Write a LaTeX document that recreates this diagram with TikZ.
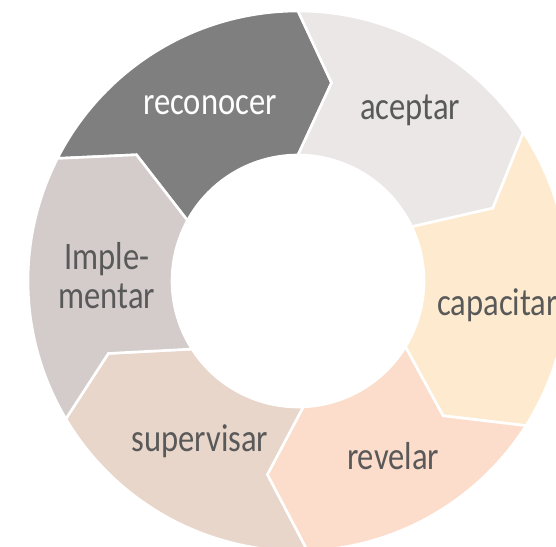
\documentclass[tikz,border=0pt]{standalone}
\usepackage{fontspec}
\setmainfont{Carlito}[FakeStretch=0.835]
\definecolor{cReco}{HTML}{7F7F7F}
\definecolor{cAcep}{HTML}{ECE7E7}
\definecolor{cCapa}{HTML}{FEEBCF}
\definecolor{cReve}{HTML}{FCDCCA}
\definecolor{cSupe}{HTML}{E8D6CA}
\definecolor{cImpl}{HTML}{D3CCCA}
\definecolor{cText}{HTML}{595959}
\tikzset{
  segm/.style={draw=white, line width=2.6pt, line join=miter},
  lbl/.style={text=cText, font=\fontsize{39}{42}\selectfont, inner sep=0pt, anchor=base},
}
\begin{document}
\begin{tikzpicture}
\fill[white] (-298pt,-265pt) rectangle (258pt,281pt);
\useasboundingbox (-298pt,-265pt) rectangle (258pt,281pt);
% reconocer
\path[segm, fill=cReco] (153:270pt) arc[start angle=153, end angle=90, radius=270pt]
  -- (80.4:201pt) -- (90:126pt) arc[start angle=90, end angle=151.3, radius=126pt]
  -- (142:205pt) -- cycle;
% aceptar
\path[segm, fill=cAcep] (90:270pt) arc[start angle=90, end angle=33.4, radius=270pt]
  -- (20.5:208pt) -- (25.5:126pt) arc[start angle=25.5, end angle=90, radius=126pt]
  -- (80.4:201pt) -- cycle;
% capacitar
\path[segm, fill=cCapa] (33.4:270pt) arc[start angle=33.4, end angle=-32.4, radius=270pt]
  -- (-42.9:198pt) -- (-31.5:126pt) arc[start angle=-31.5, end angle=25.5, radius=126pt]
  -- (20.5:208pt) -- cycle;
% revelar
\path[segm, fill=cReve] (-32.4:270pt) arc[start angle=-32.4, end angle=-88, radius=270pt]
  -- (-99:196pt) -- (-87.6:126pt) arc[start angle=-87.6, end angle=-31.5, radius=126pt]
  -- (-42.9:198pt) -- cycle;
% supervisar
\path[segm, fill=cSupe] (-88:270pt) arc[start angle=-88, end angle=-149.3, radius=270pt]
  -- (-159.1:203pt) -- (-147.3:126pt) arc[start angle=-147.3, end angle=-87.6, radius=126pt]
  -- (-99:196pt) -- cycle;
% Implementar
\path[segm, fill=cImpl] (210.7:270pt) arc[start angle=210.7, end angle=153, radius=270pt]
  -- (142:205pt) -- (151.3:126pt) arc[start angle=151.3, end angle=212.7, radius=126pt]
  -- (200.9:203pt) -- cycle;
% labels
\node[lbl, text=white] (reco) at (-88pt,166pt) {reconocer};
\node[lbl] (acep) at (112pt,161pt) {aceptar};
\node[lbl, anchor=base west] (capa) at (139pt,-34pt) {capacitar};
\node[lbl] (reve) at (95pt,-188pt) {revelar};
\node[lbl] (supe) at (-98pt,-170pt) {supervisar};
\node[lbl] (impla) at (-191pt,11.7pt) {Imple-};
\node[lbl] (implb) at (-191pt,-27.3pt) {mentar};
\end{tikzpicture}
\end{document}
